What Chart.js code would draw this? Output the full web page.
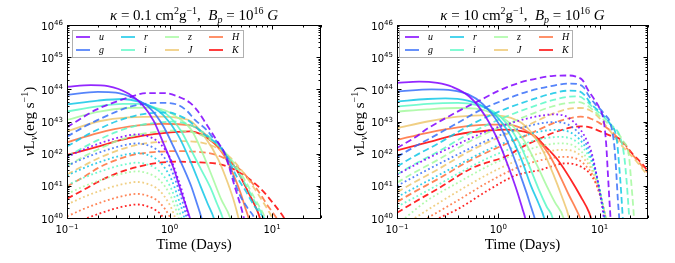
<!DOCTYPE html>
<html>
<head>
<meta charset="utf-8">
<script src="https://cdn.jsdelivr.net/npm/chart.js@4.4.0/dist/chart.umd.min.js"></script>
<style>
  html, body { margin: 0; padding: 0; background: #fff; }
  #wrap { position: relative; width: 675px; height: 263px; overflow: hidden; }
  canvas { position: absolute; top: 0; }
  #left { left: 0; }
  #right { left: 337px; }
</style>
</head>
<body>
<div id="wrap">
  <canvas id="left" width="337" height="263"></canvas>
  <canvas id="right" width="338" height="263"></canvas>
</div>
<script>
// ===== DATA =====
// bands in legend order, rainbow colours
const bands = ['u', 'g', 'r', 'i', 'z', 'J', 'H', 'K'];
const bandColors = [
  'rgba(128,0,255,0.85)', 'rgba(55,111,249,0.85)', 'rgba(18,199,230,0.85)', 'rgba(91,249,199,0.85)',
  'rgba(164,249,159,0.85)', 'rgba(237,199,111,0.85)', 'rgba(255,111,57,0.85)', 'rgba(255,0,0,0.85)'
];
const xTickExps = [-1, 0, 1];
const yTickExps = [40, 41, 42, 43, 44, 45, 46];

// each curve: [time (days), log10 of nu L_nu]
// ---- kappa = 0.1 ----
const leftSolid = [
  [[0.1,44.08],[0.17,44.13],[0.25,44.1],[0.4,43.86],[0.55,43.5],[0.7,43.02],[0.87,42.33],[1.08,41.6],[1.31,40.78],[1.58,40.0],[1.7,39.6]],
  [[0.1,43.83],[0.2,43.92],[0.3,43.9],[0.45,43.72],[0.65,43.4],[0.87,42.85],[1.1,42.2],[1.35,41.6],[1.63,40.98],[1.85,40.45],[2.05,40.0],[2.2,39.6]],
  [[0.1,43.53],[0.2,43.65],[0.35,43.7],[0.5,43.62],[0.7,43.42],[0.87,43.2],[1.2,42.6],[1.63,41.7],[2.0,41.0],[2.35,40.45],[2.7,40.0],[2.9,39.6]],
  [[0.1,43.31],[0.2,43.47],[0.35,43.55],[0.5,43.55],[0.7,43.45],[1.0,43.15],[1.3,42.7],[1.63,42.1],[2.0,41.55],[2.5,40.95],[2.9,40.45],[3.3,40.0],[3.5,39.7]],
  [[0.1,43.05],[0.2,43.3],[0.4,43.42],[0.6,43.43],[0.9,43.35],[1.2,43.12],[1.63,42.74],[2.1,42.02],[2.6,41.29],[3.2,40.57],[3.9,40.0],[4.1,39.7]],
  [[0.1,42.69],[0.2,43.0],[0.4,43.13],[0.87,43.15],[1.3,43.1],[1.63,43.0],[2.2,42.53],[3.0,41.81],[3.7,41.09],[4.3,40.47],[4.7,40.0],[5.0,39.6]],
  [[0.1,42.35],[0.2,42.64],[0.4,42.84],[0.87,42.93],[1.6,42.88],[2.0,42.72],[2.58,42.4],[3.45,41.91],[4.2,41.35],[4.9,40.8],[5.5,40.3],[5.9,40.0],[6.2,39.7]],
  [[0.1,41.96],[0.2,42.22],[0.4,42.48],[0.87,42.64],[1.6,42.69],[2.05,42.59],[2.6,42.38],[3.45,42.02],[4.7,41.4],[5.9,40.78],[7.1,40.26],[7.6,40.0],[8.0,39.7]]
];
const leftDashed = [
  [[0.1,42.82],[0.13,43.05],[0.19,43.36],[0.28,43.58],[0.4,43.75],[0.6,43.88],[0.9,43.88],[1.2,43.78],[1.6,43.57],[1.9,43.31],[2.2,43.0],[2.6,42.64],[3.0,42.33],[3.45,42.0],[4.3,41.0],[5.3,40.0],[5.6,39.6]],
  [[0.1,42.53],[0.15,42.85],[0.2,43.05],[0.3,43.3],[0.4,43.45],[0.6,43.56],[0.85,43.58],[1.2,43.52],[1.5,43.31],[1.77,43.05],[2.3,42.74],[2.6,42.53],[3.2,42.2],[3.7,41.8],[4.7,40.8],[5.8,40.3],[6.7,40.0],[7.0,39.8]],
  [[0.1,42.22],[0.15,42.55],[0.2,42.75],[0.3,43.0],[0.45,43.17],[0.7,43.27],[1.0,43.28],[1.2,43.2],[1.5,43.05],[1.8,42.84],[2.1,42.64],[2.6,42.43],[3.2,42.17],[3.7,41.85],[4.5,41.3],[5.5,40.85],[6.8,40.35],[8.2,40.0],[8.6,39.8]],
  [[0.1,41.91],[0.15,42.22],[0.2,42.42],[0.3,42.67],[0.45,42.85],[0.7,42.95],[1.1,43.0],[1.5,42.92],[2.0,42.72],[2.6,42.45],[3.2,42.15],[3.8,41.85],[4.6,41.45],[5.6,41.0],[6.8,40.5],[8.2,40.05],[8.6,39.9]],
  [[0.1,41.62],[0.15,41.93],[0.2,42.13],[0.3,42.38],[0.45,42.56],[0.7,42.67],[1.2,42.72],[1.7,42.66],[2.3,42.5],[3.0,42.25],[3.8,41.9],[4.6,41.55],[5.6,41.1],[6.8,40.6],[8.3,40.1],[9.0,39.85]],
  [[0.1,41.35],[0.15,41.65],[0.2,41.85],[0.3,42.08],[0.45,42.25],[0.7,42.35],[1.2,42.39],[1.8,42.37],[2.5,42.27],[3.2,42.1],[4.0,41.85],[5.0,41.5],[6.3,41.05],[7.8,40.6],[9.3,40.2],[10.5,39.9]],
  [[0.1,40.98],[0.15,41.3],[0.2,41.55],[0.3,41.8],[0.45,41.97],[0.7,42.05],[1.2,42.08],[2.0,42.05],[2.8,41.97],[3.6,41.82],[4.6,41.58],[5.8,41.25],[7.3,40.85],[9.0,40.4],[10.8,40.05],[11.5,39.9]],
  [[0.1,40.6],[0.15,40.9],[0.2,41.12],[0.3,41.38],[0.5,41.6],[0.8,41.72],[1.2,41.75],[2.0,41.73],[3.0,41.68],[4.0,41.55],[5.5,41.3],[7.8,40.9],[10.3,40.45],[12.5,40.1],[14,39.85]]
];
const leftDotted = [
  [[0.1,41.9],[0.15,42.15],[0.2,42.3],[0.3,42.48],[0.4,42.57],[0.48,42.6],[0.6,42.55],[0.8,42.33],[1.0,41.9],[1.1,41.6],[1.2,41.25],[1.35,40.75],[1.5,40.15],[1.6,39.7]],
  [[0.1,41.62],[0.15,41.87],[0.2,42.02],[0.3,42.2],[0.4,42.29],[0.48,42.32],[0.6,42.27],[0.8,42.05],[1.0,41.62],[1.1,41.32],[1.2,40.97],[1.35,40.47],[1.5,39.87]],
  [[0.1,41.32],[0.15,41.57],[0.2,41.72],[0.3,41.9],[0.4,41.99],[0.48,42.02],[0.6,41.97],[0.8,41.75],[1.0,41.32],[1.1,41.02],[1.2,40.67],[1.35,40.17],[1.5,39.57]],
  [[0.1,41.02],[0.15,41.27],[0.2,41.42],[0.3,41.6],[0.4,41.69],[0.48,41.72],[0.6,41.67],[0.8,41.45],[1.0,41.02],[1.1,40.72],[1.2,40.37],[1.35,39.87]],
  [[0.1,40.75],[0.15,41.0],[0.2,41.15],[0.3,41.33],[0.4,41.42],[0.48,41.45],[0.6,41.4],[0.8,41.18],[1.0,40.75],[1.1,40.45],[1.2,40.1],[1.35,39.6]],
  [[0.1,40.42],[0.15,40.67],[0.2,40.82],[0.3,41.0],[0.4,41.09],[0.48,41.12],[0.6,41.07],[0.8,40.85],[1.0,40.42],[1.1,40.12],[1.2,39.77]],
  [[0.1,40.05],[0.15,40.3],[0.2,40.45],[0.3,40.63],[0.4,40.72],[0.48,40.75],[0.6,40.7],[0.8,40.48],[1.0,40.05],[1.1,39.75]],
  [[0.1,39.72],[0.15,39.97],[0.2,40.12],[0.3,40.3],[0.4,40.39],[0.48,40.42],[0.6,40.37],[0.8,40.15],[1.0,39.72]]
];
// ---- kappa = 10 ----
const rightSolid = [
  [[0.1,44.2],[0.165,44.24],[0.25,44.2],[0.35,44.08],[0.52,43.77],[0.75,43.15],[1.02,42.33],[1.29,41.5],[1.55,40.78],[1.74,40.26],[1.84,40.0],[1.95,39.6]],
  [[0.1,43.93],[0.22,44.0],[0.35,43.97],[0.5,43.85],[0.7,43.55],[1.0,42.95],[1.3,42.2],[1.6,41.45],[1.9,40.78],[2.1,40.35],[2.28,40.0],[2.45,39.6]],
  [[0.1,43.62],[0.2,43.7],[0.3,43.72],[0.5,43.65],[0.7,43.48],[1.0,43.1],[1.3,42.6],[1.7,41.8],[2.1,41.0],[2.5,40.45],[2.83,40.0],[3.0,39.6]],
  [[0.1,43.46],[0.2,43.55],[0.4,43.58],[0.6,43.52],[0.9,43.3],[1.2,42.95],[1.6,42.35],[2.0,41.65],[2.5,40.9],[3.0,40.35],[3.43,40.0],[3.6,39.6]],
  [[0.1,43.31],[0.2,43.38],[0.4,43.42],[0.6,43.4],[0.9,43.25],[1.3,42.95],[1.8,42.4],[2.4,41.65],[3.0,41.0],[3.6,40.5],[4.4,40.0],[4.7,39.6]],
  [[0.1,42.79],[0.2,43.0],[0.4,43.15],[0.8,43.2],[1.2,43.15],[1.7,42.95],[2.2,42.6],[2.8,42.05],[3.5,41.35],[4.2,40.7],[5.0,40.0],[5.3,39.6]],
  [[0.1,42.43],[0.2,42.65],[0.4,42.82],[0.8,42.9],[1.2,42.9],[1.8,42.75],[2.5,42.4],[3.2,41.95],[4.0,41.35],[5.0,40.7],[5.8,40.3],[6.4,40.0],[6.8,39.7]],
  [[0.1,42.1],[0.2,42.35],[0.4,42.6],[0.8,42.72],[1.2,42.75],[1.7,42.7],[2.3,42.55],[2.7,42.33],[3.85,41.81],[5.2,41.19],[6.5,40.67],[7.9,40.16],[8.3,39.95]]
];
const rightDashed = [
  [[0.1,42.18],[0.15,42.5],[0.2,42.78],[0.3,43.1],[0.45,43.4],[0.65,43.65],[1.0,43.95],[1.6,44.2],[2.5,44.35],[3.5,44.42],[5.0,44.43],[6.0,44.38],[6.8,44.28],[7.6,44.0],[8.8,43.7],[10.0,43.4],[11.0,43.0],[11.6,42.3],[12.0,41.5],[12.4,40.7],[12.8,40.0],[13.0,39.6]],
  [[0.1,41.9],[0.15,42.22],[0.25,42.6],[0.42,43.0],[0.67,43.36],[1.14,43.67],[1.94,43.93],[3.3,44.1],[5.0,44.18],[6.1,44.16],[7.0,44.05],[7.8,43.8],[9.0,43.55],[11.0,43.25],[13.0,42.85],[14.0,42.2],[14.6,41.4],[15.1,40.6],[15.6,40.0],[15.9,39.6]],
  [[0.1,41.6],[0.15,41.93],[0.25,42.3],[0.5,42.85],[1.0,43.3],[2.0,43.65],[3.5,43.88],[5.0,43.96],[6.1,43.95],[7.1,43.82],[8.2,43.55],[10,43.3],[12.5,42.95],[14.8,42.4],[15.6,41.6],[16.3,40.8],[16.9,40.0],[17.2,39.6]],
  [[0.1,41.35],[0.15,41.68],[0.25,42.05],[0.5,42.6],[1.0,43.05],[2.0,43.42],[3.5,43.67],[5.0,43.77],[6.2,43.78],[7.3,43.65],[8.5,43.45],[10.5,43.2],[13,42.9],[16,42.5],[17.5,41.9],[18.5,41.1],[19.3,40.3],[19.8,39.8]],
  [[0.1,41.1],[0.15,41.42],[0.25,41.8],[0.5,42.35],[1.0,42.8],[2.0,43.2],[3.5,43.48],[5.0,43.58],[6.3,43.6],[7.5,43.5],[9,43.3],[11,43.05],[14,42.75],[17,42.4],[19.5,41.9],[20.5,41.1],[21.5,40.3],[22,39.8]],
  [[0.1,40.8],[0.15,41.12],[0.25,41.5],[0.5,42.05],[1.0,42.5],[2.0,42.9],[3.5,43.25],[5.0,43.4],[6.5,43.42],[8.0,43.35],[10,43.1],[12,42.8],[16,42.3],[24,41.7],[30,41.3]],
  [[0.1,40.5],[0.15,40.82],[0.25,41.2],[0.5,41.75],[1.0,42.2],[2.0,42.6],[3.5,42.95],[5.0,43.1],[6.5,43.15],[8.0,43.1],[10,42.95],[13,42.7],[17,42.3],[22,41.9],[30,41.4]],
  [[0.1,40.16],[0.15,40.5],[0.25,40.9],[0.55,41.55],[1.25,41.95],[1.7,42.2],[2.5,42.45],[3.5,42.65],[5.0,42.8],[6.5,42.85],[8.0,42.82],[10,42.7],[13,42.55],[16,42.45],[21,42.0],[26,41.7],[30,41.45]]
];
const rightDotted = [
  [[0.1,41.35],[0.2,41.85],[0.4,42.3],[0.8,42.72],[1.5,43.0],[2.5,43.17],[3.5,43.22],[4.5,43.18],[5.5,43.0],[6.5,42.74],[7.5,42.4],[8.3,42.05],[9.1,41.5],[9.9,40.88],[10.7,40.26],[11.1,39.9]],
  [[0.1,41.0],[0.2,41.5],[0.4,41.98],[0.8,42.43],[1.5,42.75],[2.5,42.93],[3.5,42.98],[4.5,42.95],[5.5,42.8],[6.5,42.57],[7.5,42.25],[8.5,41.85],[9.3,41.35],[10.1,40.8],[10.9,40.2],[11.3,39.9]],
  [[0.1,40.65],[0.2,41.15],[0.4,41.65],[0.8,42.13],[1.5,42.47],[2.5,42.68],[3.8,42.74],[4.8,42.7],[5.8,42.56],[6.8,42.33],[7.8,42.03],[8.7,41.65],[9.5,41.2],[10.3,40.65],[11.1,40.1],[11.4,39.9]],
  [[0.1,40.35],[0.2,40.85],[0.4,41.38],[0.8,41.87],[1.5,42.22],[2.5,42.44],[4.0,42.52],[5.0,42.49],[6.0,42.36],[7.0,42.15],[8.0,41.86],[8.9,41.5],[9.7,41.05],[10.5,40.55],[11.3,40.05],[11.6,39.8]],
  [[0.12,40.0],[0.2,40.55],[0.4,41.1],[0.8,41.62],[1.5,41.99],[2.5,42.22],[4.0,42.32],[5.0,42.3],[6.0,42.18],[7.0,41.98],[8.0,41.71],[9.0,41.36],[9.9,40.93],[10.7,40.45],[11.5,40.0],[11.8,39.8]],
  [[0.15,40.0],[0.2,40.25],[0.4,40.83],[0.8,41.37],[1.5,41.77],[2.5,42.0],[4.2,42.12],[5.2,42.1],[6.2,41.99],[7.2,41.8],[8.2,41.55],[9.1,41.22],[10.0,40.82],[10.8,40.38],[11.6,39.95]],
  [[0.2,40.0],[0.4,40.55],[0.8,41.12],[1.5,41.55],[2.5,41.78],[4.4,41.9],[5.4,41.88],[6.4,41.78],[7.4,41.6],[8.4,41.37],[9.3,41.06],[10.2,40.68],[11.0,40.26],[11.6,39.95]],
  [[0.26,40.0],[0.4,40.28],[0.8,40.87],[1.5,41.33],[2.65,41.5],[3.3,41.6],[4.6,41.7],[5.5,41.68],[6.5,41.6],[7.9,41.4],[9.1,41.1],[10.2,40.65],[11.0,40.25],[11.5,39.95]]
];

// ===== HELPERS =====
const serif = '"Liberation Serif", "DejaVu Serif", serif';
const sans = '"DejaVu Sans", sans-serif';

// draws a run of text pieces: {t, f, dy}
function drawRich(ctx, segs, x, y, align) {
  let w = 0;
  segs.forEach(s => { ctx.font = s.f; s.w = ctx.measureText(s.t).width; w += s.w; });
  let cx = align === 'center' ? x - w / 2 : align === 'right' ? x - w : x;
  ctx.textAlign = 'left';
  ctx.textBaseline = 'alphabetic';
  segs.forEach(s => {
    ctx.font = s.f;
    ctx.fillText(s.t, cx, y + (s.dy || 0));
    cx += s.w;
  });
}

function titleSegs(kappa) {
  const m = '15px ' + serif, it = 'italic 15px ' + serif;
  const sm = '10px ' + serif, smi = 'italic 10px ' + serif;
  return [
    { t: 'κ', f: it }, { t: ' = ', f: m }, { t: kappa + ' cm', f: m }, { t: '2', f: sm, dy: -6 },
    { t: 'g', f: m }, { t: '−1', f: sm, dy: -6 }, { t: ',  ', f: m },
    { t: 'B', f: it }, { t: 'p', f: smi, dy: 3 }, { t: ' = ', f: m }, { t: '10', f: m },
    { t: '16', f: sm, dy: -6 }, { t: ' ', f: m }, { t: 'G', f: it }
  ];
}

const ylabelSegs = [
  { t: 'ν', f: 'italic 15px ' + serif }, { t: 'L', f: '15px ' + serif },
  { t: 'ν', f: 'italic 10px ' + serif, dy: 3 }, { t: '(erg s', f: '15px ' + serif },
  { t: '−1', f: '10px ' + serif, dy: -6 }, { t: ')', f: '15px ' + serif }
];

// ===== FRAME, TICKS, TEXT, LEGEND =====
const decor = {
  id: 'decor',
  afterDraw(chart, args, opts) {
    const ctx = chart.ctx, a = chart.chartArea;
    const xs = chart.scales.x, ys = chart.scales.y;
    ctx.save();
    ctx.fillStyle = '#000';
    ctx.strokeStyle = '#000';
    ctx.lineWidth = 1;

    // ticks, pointing inward on all four sides
    ctx.beginPath();
    for (let e = -1; e <= 1; e++) {
      for (let m = 1; m <= 9; m++) {
        const v = m * Math.pow(10, e);
        if (v > 30.001) continue;
        const px = Math.round(xs.getPixelForValue(v)) + 0.5;
        const len = m === 1 ? 4.5 : 2.5;
        ctx.moveTo(px, a.bottom); ctx.lineTo(px, a.bottom - len);
        ctx.moveTo(px, a.top); ctx.lineTo(px, a.top + len);
      }
    }
    for (let e = 40; e <= 46; e++) {
      for (let m = 1; m <= 9; m++) {
        if (e === 46 && m > 1) continue;
        const py = Math.round(ys.getPixelForValue(m * Math.pow(10, e))) + 0.5;
        const len = m === 1 ? 4.5 : 2.5;
        ctx.moveTo(a.left, py); ctx.lineTo(a.left + len, py);
        ctx.moveTo(a.right, py); ctx.lineTo(a.right - len, py);
      }
    }
    ctx.stroke();
    ctx.strokeRect(a.left + 0.5, a.top + 0.5, a.right - a.left - 1, a.bottom - a.top);

    // tick labels
    const big = '10px ' + sans, small = '7px ' + sans;
    xTickExps.forEach(e => {
      const px = xs.getPixelForValue(Math.pow(10, e));
      drawRich(ctx, [{ t: '10', f: big }, { t: String(e).replace('-', '−'), f: small, dy: -4.5 }], px, a.bottom + 15, 'center');
    });
    yTickExps.forEach(e => {
      const py = ys.getPixelForValue(Math.pow(10, e));
      drawRich(ctx, [{ t: '10', f: big }, { t: String(e), f: small, dy: -4.5 }], a.left - 4, py + 4.5, 'right');
    });

    // title and axis labels
    const cx = (a.left + a.right) / 2;
    drawRich(ctx, titleSegs(opts.kappa), cx, 20, 'center');
    drawRich(ctx, [{ t: 'Time (Days)', f: '15px ' + serif }], cx, 249, 'center');
    ctx.save();
    ctx.translate(a.left - 33, (a.top + a.bottom) / 2);
    ctx.rotate(-Math.PI / 2);
    drawRich(ctx, ylabelSegs, 0, 0, 'center');
    ctx.restore();

    // legend: 4 columns, 2 rows, filled column by column
    const L = opts.legend;
    ctx.fillStyle = '#fff';
    ctx.fillRect(L.x, L.y, L.w, L.h);
    ctx.strokeStyle = '#b0b0b0';
    ctx.strokeRect(L.x + 0.5, L.y + 0.5, L.w, L.h);
    bands.forEach((b, i) => {
      const col = Math.floor(i / 2), row = i % 2;
      const hx = L.cols[col], hy = L.rows[row];
      ctx.strokeStyle = bandColors[i];
      ctx.lineWidth = 1.8;
      ctx.beginPath();
      ctx.moveTo(hx, hy); ctx.lineTo(hx + 14, hy);
      ctx.stroke();
      ctx.fillStyle = '#000';
      ctx.font = 'italic 10px ' + serif;
      ctx.textAlign = 'left';
      ctx.textBaseline = 'alphabetic';
      ctx.fillText(b, hx + 23, hy + 3);
    });
    ctx.restore();
  }
};

function makeDatasets(solid, dashed, dotted) {
  const sets = [];
  const styles = [[solid, []], [dashed, [6.5, 3.5]], [dotted, [1.8, 2.6]]];
  bands.forEach((b, i) => {
    styles.forEach(([src, dash]) => {
      sets.push({
        label: b,
        data: src[i].map(p => ({ x: p[0], y: Math.pow(10, p[1]) })),
        borderColor: bandColors[i],
        borderWidth: 1.8,
        borderDash: dash,
        pointRadius: 0,
        showLine: true,
        fill: false,
        cubicInterpolationMode: 'monotone'
      });
    });
  });
  return sets;
}

function makeChart(id, solid, dashed, dotted, padding, decorOpts) {
  return new Chart(document.getElementById(id), {
    type: 'scatter',
    data: { datasets: makeDatasets(solid, dashed, dotted) },
    options: {
      responsive: false,
      animation: false,
      devicePixelRatio: 1,
      events: [],
      layout: { padding: padding },
      scales: {
        x: { type: 'logarithmic', min: 0.1, max: 30, display: false },
        y: { type: 'logarithmic', min: 1e40, max: 1e46, display: false }
      },
      plugins: { legend: { display: false }, tooltip: { enabled: false }, decor: decorOpts }
    },
    plugins: [decor]
  });
}

makeChart('left', leftSolid, leftDashed, leftDotted,
  { left: 67, right: 16, top: 25, bottom: 45 },
  { kappa: '0.1', legend: { x: 72, y: 30, w: 171, h: 27, cols: [76, 121, 165, 209], rows: [37, 50] } });

makeChart('right', rightSolid, rightDashed, rightDotted,
  { left: 60, right: 27, top: 25, bottom: 45 },
  { kappa: '10', legend: { x: 62, y: 30, w: 173, h: 27, cols: [68, 113, 157, 202], rows: [37, 50] } });
</script>
</body>
</html>
